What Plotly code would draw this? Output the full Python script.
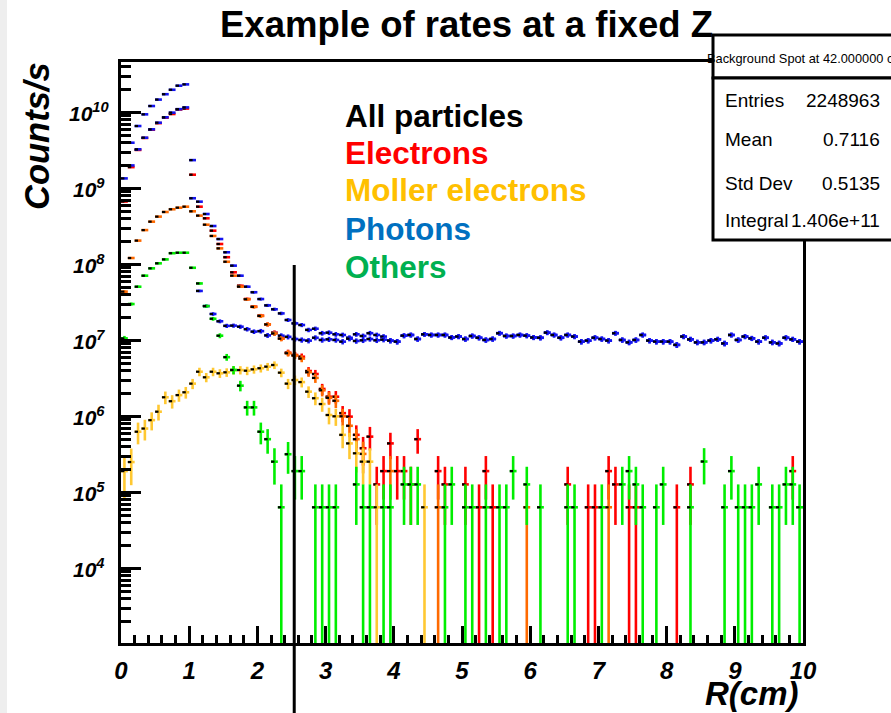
import numpy as np
import plotly.graph_objects as go

# ---------------- data ----------------
R_MIN, R_MAX, N_BINS = 0.0, 10.0, 100
EVENT_WEIGHT = 6.35e4          # rate carried by one simulated event (Poisson errors)

all_particles = [
    1.35e9, 3.98e9, 6.6e9, 9.4e9, 1.21e10, 1.47e10, 1.73e10, 1.98e10, 2.24e10, 2.33e10,
    2.35e9, 6.67e8, 4.59e8, 3.19e8, 2.15e8, 1.44e8, 9.6e7, 7.08e7, 5.07e7, 4.29e7,
    3.49e7, 2.88e7, 2.56e7, 2.26e7, 1.85e7, 1.67e7, 1.59e7, 1.37e7, 1.42e7, 1.24e7,
    1.26e7, 1.20e7, 1.175e7, 1.08e7, 1.20e7, 1.14e7, 1.24e7, 1.175e7, 1.12e7, 0.99e7,
    0.96e7, 1.15e7, 1.175e7, 1.04e7, 1.20e7, 1.175e7, 1.175e7, 1.175e7, 1.09e7, 1.12e7,
    1.04e7, 1.14e7, 1.08e7, 1.01e7, 1.04e7, 1.24e7, 1.14e7, 1.14e7, 1.175e7, 1.15e7,
    1.09e7, 1.08e7, 1.26e7, 1.175e7, 1.08e7, 1.175e7, 1.12e7, 0.96e7, 0.99e7, 1.08e7,
    1.04e7, 0.99e7, 1.24e7, 1.01e7, 0.94e7, 1.01e7, 1.175e7, 0.99e7, 0.96e7, 0.96e7,
    0.96e7, 0.87e7, 1.12e7, 1.03e7, 0.94e7, 0.94e7, 0.99e7, 1.03e7, 0.91e7, 1.175e7,
    1.01e7, 1.12e7, 1.06e7, 0.96e7, 1.08e7, 0.94e7, 0.91e7, 1.08e7, 1.03e7, 0.96e7,
]

photons = [
    6.9e8, 2.0e9, 3.26e9, 4.63e9, 5.97e9, 7.3e9, 8.6e9, 9.9e9, 1.10e10, 1.16e10,
    7.4e8, 4.46e7, 2.82e7, 2.22e7, 1.78e7, 1.55e7, 1.56e7, 1.51e7, 1.40e7, 1.30e7,
    1.32e7, 1.16e7, 1.24e7, 1.15e7, 1.11e7, 1.04e7, 1.01e7, 0.99e7, 1.08e7, 1.01e7,
    1.03e7, 1.01e7, 0.96e7, 1.05e7, 0.98e7, 1.0e7, 1.04e7, 1.0e7, 1.02e7, 0.99e7,
    0.96e7, 1.15e7, 1.175e7, 1.04e7, 1.20e7, 1.175e7, 1.175e7, 1.175e7, 1.09e7, 1.12e7,
    1.04e7, 1.14e7, 1.08e7, 1.01e7, 1.04e7, 1.24e7, 1.14e7, 1.14e7, 1.175e7, 1.15e7,
    1.09e7, 1.08e7, 1.26e7, 1.175e7, 1.08e7, 1.175e7, 1.12e7, 0.96e7, 0.99e7, 1.08e7,
    1.04e7, 0.99e7, 1.24e7, 1.01e7, 0.94e7, 1.01e7, 1.175e7, 0.99e7, 0.96e7, 0.96e7,
    0.96e7, 0.87e7, 1.12e7, 1.03e7, 0.94e7, 0.94e7, 0.99e7, 1.03e7, 0.91e7, 1.175e7,
    1.01e7, 1.12e7, 1.06e7, 0.96e7, 1.08e7, 0.94e7, 0.91e7, 1.08e7, 1.03e7, 0.96e7,
]

electrons = [
    6.7e8, 1.9e9, 3.2e9, 4.6e9, 5.9e9, 7.2e9, 8.5e9, 9.5e9, 1.09e10, 1.12e10,
    1.51e9, 5.73e8, 4.03e8, 2.77e8, 1.85e8, 1.24e8, 7.85e7, 5.22e7, 3.49e7, 2.77e7,
    2.11e7, 1.62e7, 1.26e7, 1.06e7, 6.87e6, 6.41e6, 6.08e6, 3.94e6, 3.6e6, 2.29e6,
    1.81e6, 1.81e6, 1.1e6, 9.9e5, 5.7e5, 3.8e5, 5.4e5, 1.27e5, 1.9e5, 4.4e5,
    1.9e5, 1.9e5, 1.27e5, 5.0e5, None, None, 1.9e5, 1.27e5, None, None,
    1.27e5, None, 6.35e4, 1.9e5, 6.35e4, None, None, None, None, None,
    None, None, None, None, None, 1.27e5, None, None, 6.35e4, 6.35e4,
    None, 1.9e5, 1.27e5, None, 6.35e4, 6.35e4, None, None, None, None,
    None, 6.35e4, None, 1.27e5, None, None, None, None, None, None,
    None, None, None, None, None, None, None, None, 1.9e5, None,
]

primary_electrons = [  # orange points, not listed in the legend
    4.37e7, 1.21e8, 2.05e8, 2.82e8, 3.64e8, 4.24e8, 4.88e8, 5.3e8, 5.56e8, 5.73e8,
    4.98e8, 4.37e8, 3.32e8, 2.36e8, 1.62e8, 1.08e8, 7.08e7, 5.07e7, 3.47e7, 2.75e7,
    2.09e7, 1.62e7, 1.23e7, 1.05e7, 6.76e6, 6.3e6, 5.75e6, 3.8e6, 3.2e6, 2.2e6,
    1.75e6, 1.6e6, 1.0e6, 7.5e5, 5.0e5, 3.2e5, None, None, None, 1.9e5,
    None, None, None, None, None, None, 6.35e4, None, None, None,
    None, None, None, None, None, None, None, None, None, 6.35e4,
    None, None, None, None, None, None, None, None, None, None,
    None, 6.35e4, None, None, None, None, None, None, None, None,
    None, None, None, None, None, None, None, None, None, None,
    None, None, None, None, None, None, None, None, None, None,
]

moller = [
    1.9e5, 2.5e5, 6.27e5, 6.9e5, 8.9e5, 1.15e6, 1.78e6, 1.58e6, 1.9e6, 2.07e6,
    2.69e6, 3.86e6, 3.26e6, 3.86e6, 3.68e6, 3.79e6, 4.06e6, 4.06e6, 3.98e6, 4.15e6,
    4.29e6, 4.5e6, 4.73e6, 3.75e6, 2.69e6, 3.0e6, 2.82e6, 2.11e6, 1.73e6, 1.45e6,
    1.04e6, 1.0e6, 5.7e5, 4.4e5, 3.26e5, 2.53e5, 2.53e5, 6.35e4, None, None,
    None, None, None, None, 6.35e4, None, None, None, None, None,
] + [None] * 50

others = [
    1.06e7, 3.0e7, 5.07e7, 7.08e7, 8.85e7, 1.03e8, 1.16e8, 1.40e8, 1.42e8, 1.42e8,
    9.0e7, 5.6e7, 2.82e7, 1.92e7, 1.15e7, 6.0e6, 4.07e6, 2.53e6, 1.31e6, 1.31e6,
    6.27e5, 5.0e5, 2.53e5, 6.35e4, 3.17e5, 1.9e5, 1.9e5, None, 6.35e4, 6.35e4,
    6.35e4, 6.35e4, None, None, 1.27e5, 6.35e4, 6.35e4, None, 6.35e4, 6.35e4,
    None, 1.27e5, 1.27e5, 1.27e5, None, None, None, 6.35e4, 1.27e5, None,
    6.35e4, 6.35e4, None, 6.35e4, None, 6.35e4, 6.35e4, 1.9e5, None, 1.27e5,
    None, 6.35e4, None, None, None, 6.35e4, 6.35e4, None, None, None,
    6.35e4, None, None, 1.27e5, 1.9e5, 1.27e5, 6.35e4, None, 6.35e4, 1.27e5,
    None, None, None, 6.35e4, None, 2.54e5, None, None, 6.35e4, 1.9e5,
    6.35e4, 6.35e4, 6.35e4, 1.27e5, None, 6.35e4, 6.35e4, 1.27e5, 1.27e5, 6.35e4,
]

x_tick_values = list(range(0, 11))
y_decades = [4, 5, 6, 7, 8, 9, 10]
R_CUT = 2.54   # position of the vertical marker line (cm)

legend_lines = [("All particles", "#000000"), ("Electrons", "#FF0000"),
                ("Moller electrons", "#FFC000"), ("Photons", "#0070C0"),
                ("Others", "#00B050")]
stats_rows = [("Entries", "2248963"), ("Mean", "0.7116"),
              ("Std Dev", "0.5135"), ("Integral", "1.406e+11")]

# ---------------- figure ----------------
W, H = 891, 713
L, R, T, B = 121, 88, 62, 70
PW, PH = W - L - R, H - T - B
Y_RANGE = [3.017, 10.662]
Y_FLOOR = 10 ** (Y_RANGE[0] - 0.3)

def xp(px):
    return (px - L) / PW

def yp(py):
    return (H - B - py) / PH

edges = np.linspace(R_MIN, R_MAX, N_BINS + 1)
centers = 0.5 * (edges[:-1] + edges[1:])
half = 0.5 * (edges[1] - edges[0])

FONT = "Liberation Sans"
fig = go.Figure()

def add_hist(vals, color, thick=2.6):
    v = np.array([np.nan if a is None else a for a in vals], dtype=float)
    err = np.sqrt(v * EVENT_WEIGHT)
    lo = np.minimum(err, v - Y_FLOOR)
    fig.add_trace(go.Scatter(
        x=centers, y=v, mode="markers",
        marker=dict(size=1, color=color, opacity=0),
        error_x=dict(type="data", array=np.full(N_BINS, half), color=color,
                     thickness=thick, width=0),
        error_y=dict(type="data", array=err, arrayminus=lo, symmetric=False,
                     color=color, thickness=thick, width=0),
        showlegend=False, hoverinfo="skip"))
    fig.add_trace(go.Scatter(
        x=centers - half / 2, y=v, mode="markers",
        marker=dict(size=1, color="black", opacity=0),
        error_x=dict(type="data", array=np.full(N_BINS, half / 2), color="black",
                     thickness=2.2, width=0),
        showlegend=False, hoverinfo="skip"))

add_hist(all_particles, "#1414F0")
add_hist(electrons, "#FF0000")
add_hist(photons, "#1414F0")
add_hist(primary_electrons, "#FF6A00")
add_hist(moller, "#FFC832")
add_hist(others, "#00EE00")

# invisible trace that carries the minor-tick axis
fig.add_trace(go.Scatter(x=[R_MIN], y=[10 ** 5], yaxis="y2", mode="markers",
                         marker=dict(opacity=0), showlegend=False, hoverinfo="skip"))

minor_y = [k * 10 ** d for d in range(3, 11) for k in range(2, 10)]

fig.update_layout(
    width=W, height=H, margin=dict(l=L, r=R, t=T, b=B),
    paper_bgcolor="white", plot_bgcolor="white",
    xaxis=dict(range=[R_MIN, R_MAX], tickvals=x_tick_values, ticks="inside",
               ticklen=17, tickwidth=2.5, tickcolor="black",
               minor=dict(dtick=0.2, ticks="inside", ticklen=8, tickwidth=2.5,
                          tickcolor="black"),
               showgrid=False, zeroline=False, showline=True, mirror=True,
               linewidth=3, linecolor="black", ticklabelstandoff=4,
               tickfont=dict(family=FONT, size=24, color="black",
                             weight="bold", style="italic")),
    yaxis=dict(type="log", range=Y_RANGE, tickvals=[10 ** d for d in y_decades],
               ticks="inside", ticklen=20, tickwidth=2.5, tickcolor="black",
               showticklabels=False, showgrid=False, zeroline=False,
               showline=True, mirror=True, linewidth=3, linecolor="black"),
    yaxis2=dict(type="log", range=Y_RANGE, overlaying="y", anchor="x", side="left",
                tickvals=minor_y, ticks="inside", ticklen=10, tickwidth=2.5,
                tickcolor="black", showticklabels=False, showgrid=False,
                zeroline=False, showline=False),
)

ann = []
for d in y_decades:
    ann.append(dict(x=xp(89), y=d, xref="paper", yref="y", text=f"10<sup>{d}</sup>",
                    showarrow=False, xanchor="center", yanchor="middle",
                    font=dict(family=FONT, size=21, color="black",
                              weight="bold", style="italic")))

ann.append(dict(x=xp(466), y=yp(25), xref="paper", yref="paper",
                text="Example of rates at a fixed Z", showarrow=False,
                xanchor="center", yanchor="middle",
                font=dict(family=FONT, size=36.5, color="black", weight="bold")))
ann.append(dict(x=xp(37), y=yp(136), xref="paper", yref="paper", text="Counts/s",
                textangle=-90, showarrow=False, xanchor="center", yanchor="middle",
                font=dict(family=FONT, size=34.5, color="black", weight="bold",
                          style="italic")))
ann.append(dict(x=xp(801), y=yp(694), xref="paper", yref="paper", text="R(cm)",
                showarrow=False, xanchor="right", yanchor="middle",
                font=dict(family=FONT, size=33, color="black", weight="bold",
                          style="italic")))

leg_y = [116, 153, 190, 229, 267]
for (txt, col), py in zip(legend_lines, leg_y):
    ann.append(dict(x=xp(343), y=yp(py), xref="paper", yref="paper", text=txt,
                    showarrow=False, xanchor="left", yanchor="middle",
                    font=dict(family=FONT, size=31.5, color=col, weight="bold")))

# stats box
ann.append(dict(x=xp(705), y=yp(58), xref="paper", yref="paper",
                text="Background Spot at 42.000000 cm", showarrow=False,
                xanchor="left", yanchor="middle",
                font=dict(family=FONT, size=12.8, color="black")))
row_y = [100, 140, 183, 221]
for (k, v), py in zip(stats_rows, row_y):
    ann.append(dict(x=xp(723), y=yp(py), xref="paper", yref="paper", text=k,
                    showarrow=False, xanchor="left", yanchor="middle",
                    font=dict(family=FONT, size=19, color="black")))
    ann.append(dict(x=xp(882), y=yp(py), xref="paper", yref="paper", text=v,
                    showarrow=False, xanchor="right", yanchor="middle",
                    font=dict(family=FONT, size=19, color="black")))
fig.update_layout(annotations=ann)

shapes = [
    dict(type="rect", xref="paper", yref="paper", x0=xp(0), x1=xp(7),
         y0=yp(H), y1=yp(0), fillcolor="#EEEEEE", line=dict(width=0), layer="below"),
    dict(type="rect", xref="paper", yref="paper", x0=xp(713), x1=xp(960),
         y0=yp(78), y1=yp(35), fillcolor="white", line=dict(color="black", width=3)),
    dict(type="rect", xref="paper", yref="paper", x0=xp(713), x1=xp(960),
         y0=yp(240), y1=yp(78), fillcolor="white", line=dict(color="black", width=3)),
    dict(type="line", xref="x", yref="paper", x0=R_CUT, x1=R_CUT,
         y0=yp(265), y1=yp(H), line=dict(color="black", width=3)),
]
fig.update_layout(shapes=shapes)

fig.write_html("out.html",
               config={"displayModeBar": False},
               post_script="document.body.style.margin='0';"
                           "document.body.style.overflow='hidden';")
